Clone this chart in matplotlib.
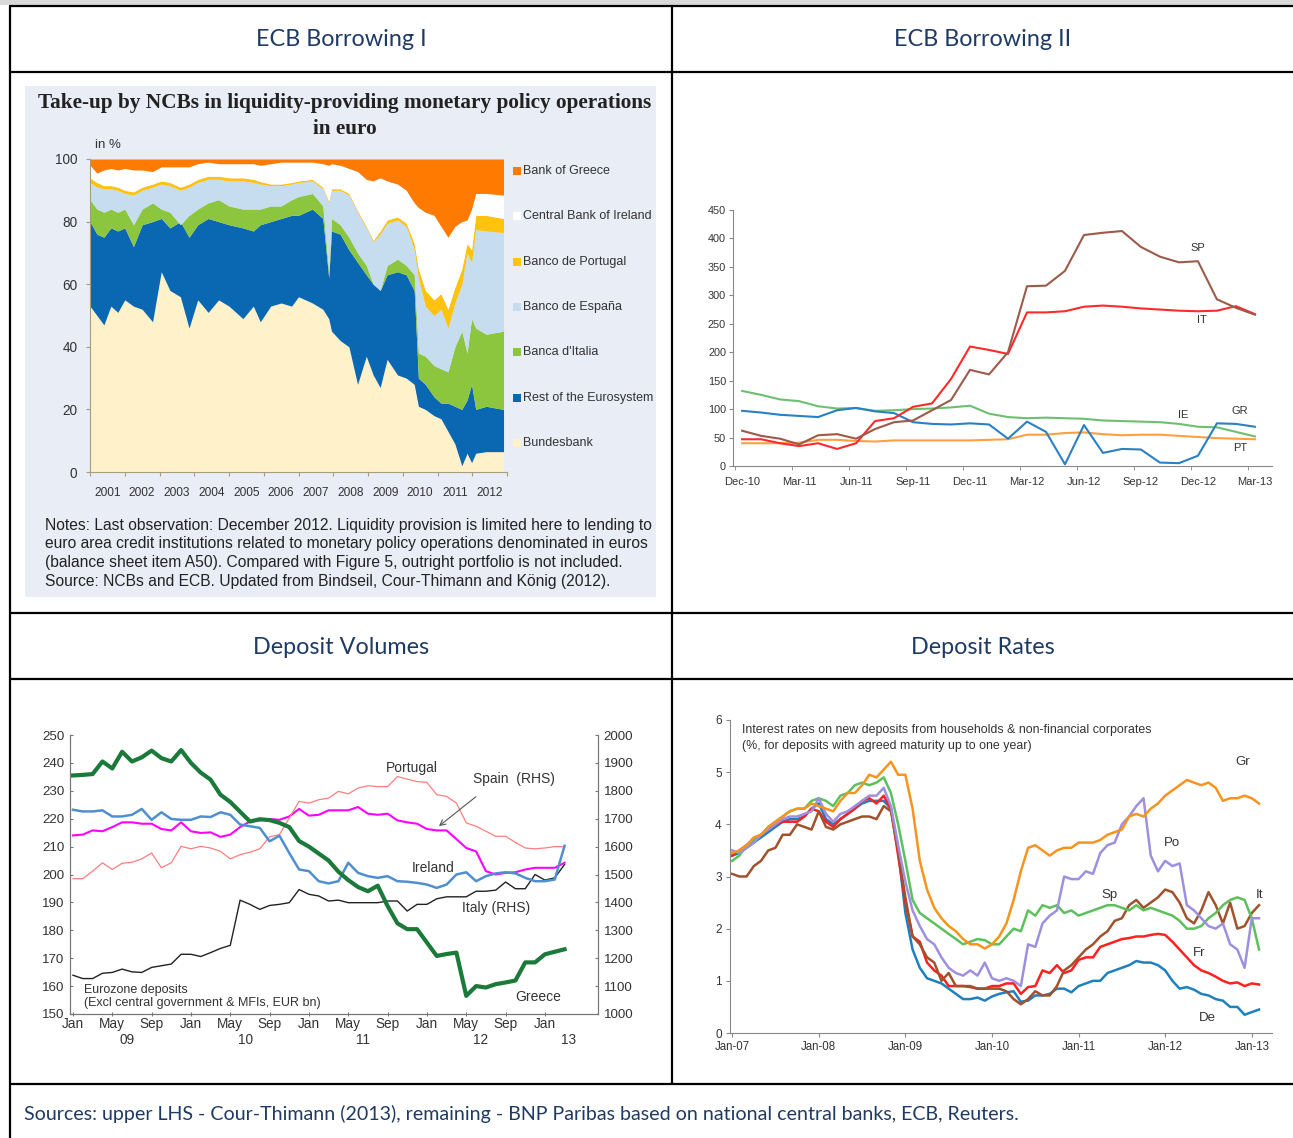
import numpy as np
import matplotlib
matplotlib.use("Agg")
import matplotlib.pyplot as plt
from matplotlib.patches import Rectangle
from matplotlib.lines import Line2D
import matplotlib.transforms as mtransforms

plt.rcParams['font.family'] = ['Liberation Sans', 'DejaVu Sans']

# ---------------- data: panel 1 (cumulative shares, %) ----------------
share_t = [2001.0, 2001.2, 2001.4, 2001.6, 2001.8, 2002.0, 2002.25, 2002.5, 2002.8,
           2003.05, 2003.3, 2003.6, 2003.85, 2004.1, 2004.4, 2004.7, 2005.0, 2005.4,
           2005.7, 2005.9, 2006.2, 2006.5, 2006.8, 2007.0, 2007.4, 2007.7, 2007.87,
           2007.95, 2008.2, 2008.45, 2008.7, 2008.95, 2009.15, 2009.35, 2009.55,
           2009.85, 2010.1, 2010.33, 2010.45, 2010.65, 2010.9, 2011.1, 2011.3, 2011.5,
           2011.7, 2011.85, 2011.98, 2012.1, 2012.4, 2012.9]
bund_top = [53, 50, 47, 53, 51, 55, 53, 52, 48, 64, 58, 56, 46, 55, 51, 55, 53, 49, 53, 48,
            53, 54, 53, 56, 54, 52, 49, 45, 42, 40, 28, 37, 31, 27, 36, 31, 30, 28, 21, 20,
            18, 17, 13, 9, 2, 6, 3, 6, 6.5, 6.5]
rest_top = [80, 76, 75, 78, 77, 78, 72, 79, 80, 81, 78, 80, 75, 79, 81, 80, 79, 78, 77, 79,
            80, 81, 82, 82, 84, 81, 62, 77, 76, 71, 67, 63, 60, 58, 63, 64, 63, 58, 30, 28,
            24, 22, 22, 21, 20, 23, 28, 20, 21, 20]
ital_top = [87, 84, 83, 84, 83, 84, 79, 84, 86, 84, 83, 79, 82, 84, 86, 87, 85, 84, 84, 84,
            85, 85, 87, 88, 89, 85, 64, 81, 79, 75, 70, 66, 60, 58, 66, 68, 66, 63, 38, 37,
            34, 33, 32, 40, 45, 38, 49, 46, 44, 45]
esp_top = [92.5, 91, 90.5, 90.5, 90, 89, 88.5, 90, 91, 92, 91.5, 90, 91, 92.5, 93.5, 93.5,
           93, 93, 92.5, 92, 91.5, 91.5, 92, 92.5, 93, 90.5, 86, 90, 90, 88.5, 83, 78, 73.5,
           76, 79.5, 80.5, 78.5, 71, 62, 53, 50, 52, 46, 54, 60, 70, 67, 77.5, 77, 76.5]
port_top = [94, 92.5, 91.5, 91.5, 91, 90, 89.5, 91, 92, 93, 92.5, 91, 92, 93.5, 94.5, 94.5,
            94, 94, 93.5, 92.8, 92, 92, 92.5, 93, 93.5, 91, 86.5, 90.5, 90.5, 89, 83.5, 78.5,
            74, 77, 80.5, 81.5, 79.5, 73, 65, 58, 55, 57, 52, 59, 65, 73, 71, 82, 82, 81]
irl_top = [98, 95.5, 96.5, 97, 96.5, 97, 96.5, 96.5, 96, 97.5, 97.5, 97.5, 97.5, 98.5, 99,
           98.5, 98.5, 98.5, 98.5, 98, 98.5, 99, 99, 99, 99, 98.5, 98, 98.5, 98, 97, 96, 93.5,
           93, 94, 93, 92, 90, 86, 84.5, 83, 82, 78.5, 75, 78.5, 80, 80.5, 84, 89, 89, 88.5]
share_names = ['Bank of Greece', 'Central Bank of Ireland', 'Banco de Portugal',
               'Banco de España', "Banca d'Italia", 'Rest of the Eurosystem', 'Bundesbank']
years1 = list(range(2001, 2013))

# ---------------- data: panel 2 (EUR bn, monthly Dec-10 .. Mar-13) ----------------
ecb_quarter_labels = ['Dec-10', 'Mar-11', 'Jun-11', 'Sep-11', 'Dec-11', 'Mar-12',
                      'Jun-12', 'Sep-12', 'Dec-12', 'Mar-13']
ecb_sp = [62, 53, 48, 38, 54, 56, 48, 65, 77, 80, 98, 116, 169, 161, 200, 316, 317, 343,
          406, 410, 413, 385, 368, 358, 360, 293, 278, 266]
ecb_it = [47, 47, 40, 35, 40, 30, 40, 79, 84, 104, 110, 153, 210, 204, 197, 270, 270, 272,
          280, 282, 280, 277, 275, 273, 272, 273, 281, 267]
ecb_gr = [97, 94, 90, 88, 86, 98, 102, 96, 93, 77, 74, 73, 75, 73, 48, 78, 60, 3, 72, 23,
          30, 29, 6, 5, 18, 75, 74, 69]
ecb_ie = [132, 125, 117, 114, 105, 101, 102, 97, 98, 100, 101, 103, 106, 92, 86, 84, 85, 84,
          83, 80, 79, 78, 77, 74, 69, 68, 60, 52]
ecb_pt = [40, 40, 40, 41, 46, 46, 44, 43, 45, 45, 45, 45, 45, 46, 47, 55, 55, 58, 59, 56,
          54, 55, 55, 53, 51, 49, 48, 47]

# ---------------- data: panel 3 (deposits, monthly Jan-09 .. Mar-13) ----------------
dep_month_labels = ['Jan', 'May', 'Sep'] * 4 + ['Jan']
dep_year_labels = ['09', '10', '11', '12', '13']
dep_greece = [235.5, 235.7, 236, 240.5, 238, 244, 240.5, 242, 244.4, 241.7, 240.5, 244.6,
              240, 236.5, 234, 228.6, 226, 222.5, 219, 219.8, 219.5, 218.5, 217, 212, 210,
              207.5, 205, 201, 198, 195.5, 194, 196, 188.7, 182.5, 180.4, 180.4, 175.6,
              170.8, 171.5, 172, 156.5, 160, 159.5, 160.7, 161.3, 162, 168.5, 168.5, 171.4,
              172.3, 173.2]
dep_portugal = [198.5, 198.5, 201.2, 204.2, 201.8, 204, 204.4, 205.6, 207.7, 202.4, 204.2,
                210.1, 209.2, 210.1, 209.5, 208.3, 205.6, 207.1, 208, 209.2, 213.5, 214.3,
                220.2, 226.2, 225.6, 226.8, 227.4, 229.8, 228.9, 231, 231.8, 231.5, 231.5,
                235.1, 234.2, 233.3, 233, 228.6, 228, 225.6, 218.5, 217.3, 215.5, 213.7,
                213.7, 211.5, 209.5, 209.2, 209.5, 210, 210]
dep_ireland = [223.2, 222.6, 222.6, 223, 220.8, 220.8, 221.4, 223.5, 219.6, 222.3, 219.9,
               219.6, 219.6, 220.8, 220.6, 222.3, 221.4, 217.9, 217.3, 216.7, 211.9, 213.9,
               207.7, 201.8, 201.2, 197.6, 196.8, 197.6, 204.2, 200.6, 199.4, 198.8, 199.4,
               197.6, 197.4, 197, 196.4, 195.2, 196.4, 200, 200.8, 197.6, 199.4, 200.4,
               200.8, 200.4, 198.8, 197.6, 197.6, 198.2, 210.3]
dep_spain_rhs = [1640, 1643, 1658, 1655, 1670, 1687, 1687, 1682, 1682, 1663, 1658, 1687,
                 1655, 1649, 1651, 1635, 1643, 1670, 1690, 1694, 1699, 1696, 1708, 1735,
                 1711, 1714, 1730, 1730, 1730, 1742, 1718, 1714, 1718, 1694, 1687, 1682,
                 1663, 1658, 1658, 1627, 1595, 1583, 1512, 1500, 1506, 1508, 1518, 1524,
                 1524, 1524, 1542]
dep_italy_rhs = [1139, 1127, 1127, 1146, 1149, 1161, 1151, 1149, 1167, 1173, 1179, 1214,
                 1214, 1206, 1220, 1235, 1246, 1408, 1393, 1375, 1389, 1393, 1399, 1446,
                 1429, 1423, 1405, 1408, 1399, 1399, 1399, 1399, 1405, 1405, 1369, 1393,
                 1393, 1413, 1420, 1420, 1420, 1440, 1440, 1444, 1473, 1449, 1449, 1500,
                 1480, 1488, 1536]

# ---------------- data: panel 4 (deposit rates %, monthly Jan-07 .. Feb-13) ----------------
rate_year_labels = ['Jan-07', 'Jan-08', 'Jan-09', 'Jan-10', 'Jan-11', 'Jan-12', 'Jan-13']
rate_gr = [3.45, 3.5, 3.6, 3.75, 3.8, 3.95, 4.05, 4.15, 4.25, 4.3, 4.3, 4.4, 4.35, 4.3, 4.25,
           4.45, 4.6, 4.6, 4.75, 4.95, 4.9, 5.05, 5.2, 4.95, 4.95, 4.3, 3.3, 2.75, 2.4, 2.2,
           2.05, 1.95, 1.8, 1.7, 1.7, 1.62, 1.7, 1.85, 2.1, 2.55, 3.1, 3.55, 3.6, 3.5, 3.4,
           3.5, 3.55, 3.55, 3.65, 3.65, 3.65, 3.7, 3.8, 3.85, 3.9, 4.15, 4.2, 4.15, 4.3, 4.4,
           4.55, 4.65, 4.75, 4.85, 4.8, 4.75, 4.8, 4.7, 4.45, 4.5, 4.5, 4.55, 4.5, 4.4]
rate_de = [3.4, 3.45, 3.55, 3.65, 3.75, 3.85, 3.95, 4.05, 4.1, 4.1, 4.15, 4.3, 4.4, 4.1, 4.0,
           4.1, 4.2, 4.3, 4.4, 4.45, 4.45, 4.45, 4.3, 3.5, 2.3, 1.6, 1.25, 1.05, 1.0, 0.95,
           0.85, 0.75, 0.65, 0.65, 0.68, 0.62, 0.7, 0.75, 0.78, 0.8, 0.6, 0.62, 0.72, 0.72,
           0.75, 0.85, 0.85, 0.78, 0.9, 0.95, 1.0, 1.0, 1.15, 1.2, 1.25, 1.3, 1.38, 1.35, 1.35,
           1.3, 1.2, 1.0, 0.85, 0.88, 0.83, 0.75, 0.72, 0.65, 0.62, 0.5, 0.5, 0.35, 0.4, 0.45]
rate_fr = [3.4, 3.5, 3.6, 3.7, 3.8, 3.9, 4.0, 4.05, 4.05, 4.05, 4.15, 4.3, 4.25, 4.05, 3.95,
           4.1, 4.2, 4.3, 4.45, 4.5, 4.4, 4.55, 4.3, 3.4, 2.5, 1.85, 1.75, 1.35, 1.2, 1.1,
           0.9, 0.9, 0.9, 0.88, 0.85, 0.85, 0.9, 0.9, 0.95, 0.95, 0.75, 0.88, 0.9, 1.2, 1.15,
           1.3, 1.15, 1.2, 1.4, 1.45, 1.45, 1.65, 1.7, 1.75, 1.8, 1.82, 1.85, 1.85, 1.88, 1.9,
           1.88, 1.75, 1.6, 1.45, 1.3, 1.2, 1.15, 1.08, 1.0, 0.95, 0.97, 0.9, 0.95, 0.93]
rate_it = [3.05, 3.0, 3.0, 3.2, 3.3, 3.5, 3.55, 3.8, 3.8, 4.0, 3.95, 3.9, 4.25, 3.95, 3.9,
           4.0, 4.05, 4.1, 4.15, 4.15, 4.1, 4.35, 4.25, 3.5, 2.6, 1.85, 1.7, 1.45, 1.35, 1.0,
           1.15, 0.9, 0.9, 0.9, 0.85, 0.85, 0.85, 0.85, 0.8, 0.65, 0.55, 0.65, 0.8, 0.72,
           0.72, 0.9, 1.2, 1.3, 1.45, 1.6, 1.7, 1.85, 1.95, 2.15, 2.2, 2.45, 2.55, 2.4, 2.5,
           2.6, 2.75, 2.7, 2.5, 2.2, 2.1, 2.35, 2.7, 2.45, 2.1, 2.5, 2.0, 2.05, 2.3, 2.45]
rate_sp = [3.3, 3.4, 3.6, 3.7, 3.8, 3.95, 4.05, 4.15, 4.25, 4.3, 4.3, 4.45, 4.5, 4.45, 4.35,
           4.55, 4.6, 4.75, 4.8, 4.75, 4.8, 4.9, 4.6, 4.0, 3.3, 2.55, 2.3, 2.2, 2.1, 2.0,
           1.9, 1.8, 1.7, 1.75, 1.8, 1.78, 1.7, 1.7, 1.85, 2.0, 1.95, 2.35, 2.25, 2.45, 2.4,
           2.45, 2.3, 2.35, 2.25, 2.3, 2.35, 2.4, 2.45, 2.45, 2.4, 2.35, 2.45, 2.35, 2.4,
           2.35, 2.3, 2.25, 2.15, 2.0, 2.0, 2.05, 2.2, 2.3, 2.45, 2.55, 2.6, 2.55, 2.2, 1.6]
rate_po = [3.5, 3.45, 3.55, 3.65, 3.8, 3.9, 4.0, 4.1, 4.15, 4.15, 4.2, 4.25, 4.5, 4.2, 4.05,
           4.2, 4.25, 4.35, 4.45, 4.55, 4.55, 4.7, 4.35, 3.6, 2.9, 2.35, 2.05, 1.8, 1.7, 1.45,
           1.25, 1.15, 1.1, 1.2, 1.1, 1.35, 1.05, 1.0, 1.05, 1.0, 0.9, 1.7, 1.65, 2.1, 2.25,
           2.35, 3.0, 2.95, 2.95, 3.1, 3.05, 3.45, 3.6, 3.65, 4.0, 4.15, 4.35, 4.5, 3.4, 3.1,
           3.3, 3.2, 3.25, 2.45, 2.35, 2.2, 2.05, 2.0, 2.1, 1.7, 1.6, 1.25, 2.2, 2.2]

# ---------------- figure & helpers ----------------
W, H = 1293, 1138
fig = plt.figure(figsize=(W / 100, H / 100), dpi=100)
fig.patch.set_facecolor('white')


def fx(x):
    return x / W


def fy(y):
    return 1 - y / H


def add_ax(x0, y0, x1, y1, **kw):
    return fig.add_axes([x0 / W, 1 - y1 / H, (x1 - x0) / W, (y1 - y0) / H], **kw)


def hline(y, x0, x1, lw=1.6):
    fig.add_artist(Line2D([fx(x0), fx(x1)], [fy(y), fy(y)], transform=fig.transFigure,
                          color='black', lw=lw, solid_capstyle='butt', zorder=5))


def vline(x, y0, y1, lw=1.6):
    fig.add_artist(Line2D([fx(x), fx(x)], [fy(y0), fy(y1)], transform=fig.transFigure,
                          color='black', lw=lw, solid_capstyle='butt', zorder=5))


NAVY = '#1f3a63'
HEAD_FONT = ['Lato', 'DejaVu Sans']
DARK = '#333333'

# table frame
fig.add_artist(Rectangle((0, fy(5)), 1, 5 / H, transform=fig.transFigure,
                         facecolor='#d9d9d9', edgecolor='none', zorder=-5))
for yy in (6, 72, 613, 679, 1084):
    hline(yy, 9, W)
vline(10, 6, H)
vline(672, 6, 1084)

for txt, xx, yy in (('ECB Borrowing I', 341, 40), ('ECB Borrowing II', 983, 40),
                    ('Deposit Volumes', 341, 647), ('Deposit Rates', 983, 647)):
    fig.text(fx(xx), fy(yy), txt, ha='center', va='center', fontsize=16.8, color=NAVY,
             family=HEAD_FONT)
fig.text(fx(24), fy(1114), 'Sources: upper LHS - Cour-Thimann (2013), remaining - BNP Paribas '
         'based on national central banks, ECB, Reuters.', ha='left', va='center',
         fontsize=14.1, color=NAVY, family=HEAD_FONT)

# ---------------- panel 1 ----------------
BG1 = '#e8edf6'
fig.add_artist(Rectangle((fx(25), fy(597)), 631 / W, 511 / H, transform=fig.transFigure,
                         facecolor=BG1, edgecolor='none', zorder=-5))
SERIF = ['Liberation Serif', 'DejaVu Serif']
fig.text(fx(345), fy(103), 'Take-up by NCBs in liquidity-providing monetary policy operations',
         ha='center', va='center', fontsize=15.3, fontweight='bold', color='#222222',
         family=SERIF)
fig.text(fx(345), fy(129), 'in euro', ha='center', va='center', fontsize=15.3,
         fontweight='bold', color='#222222', family=SERIF)

ax1 = add_ax(90, 159, 507, 472)
ax1.set_facecolor(BG1)
t1 = np.array(share_t)
levels = [np.zeros(len(t1)), np.array(bund_top), np.array(rest_top), np.array(ital_top),
          np.array(esp_top), np.array(port_top), np.array(irl_top), np.full(len(t1), 100.0)]
cols1 = ['#fff1c9', '#0a67b2', '#8cc63e', '#c6dcef', '#ffc20e', '#ffffff', '#ff7a00']
for k in range(7):
    ax1.fill_between(t1, levels[k], levels[k + 1], color=cols1[k], lw=0)
ax1.set_xlim(2001, 2013)
ax1.set_ylim(0, 100)
for s in ('top', 'right'):
    ax1.spines[s].set_visible(False)
for s in ('left', 'bottom'):
    ax1.spines[s].set_color('#a89c7c')
ax1.set_yticks(range(0, 101, 20))
ax1.tick_params(axis='y', labelsize=9.8, colors='#a89c7c', labelcolor=DARK,
                length=3, direction='out', pad=6)
ax1.set_xticks(range(2001, 2014))
ax1.set_xticklabels([])
ax1.tick_params(axis='x', which='major', length=3, colors='#a89c7c', direction='out')
ax1.set_xticks([y + 0.5 for y in years1], minor=True)
ax1.set_xticklabels([str(y) for y in years1], minor=True)
ax1.tick_params(axis='x', which='minor', length=0, labelsize=8.6, labelcolor=DARK, pad=11)
fig.text(fx(95), fy(145), 'in %', ha='left', va='center', fontsize=9.5, color=DARK)

leg_cols = ['#ff7a00', '#ffffff', '#ffc20e', '#c6dcef', '#8cc63e', '#0a67b2', '#fff1c9']
for i, (nm, c) in enumerate(zip(share_names, leg_cols)):
    yy = 171 + i * 45.3
    fig.add_artist(Rectangle((fx(513), fy(yy + 4)), 8 / W, 8 / H, transform=fig.transFigure,
                             facecolor=c, edgecolor='none'))
    fig.text(fx(523), fy(yy), nm, ha='left', va='center', fontsize=9, color=DARK)

notes = ['Notes: Last observation: December 2012. Liquidity provision is limited here to lending to',
         'euro area credit institutions related to monetary policy operations denominated in euros',
         '(balance sheet item A50). Compared with Figure 5, outright portfolio is not included.',
         'Source: NCBs and ECB. Updated from Bindseil, Cour-Thimann and König (2012).']
for i, ln in enumerate(notes):
    fig.text(fx(45), fy(525 + i * 18.7), ln, ha='left', va='center', fontsize=11.25,
             color='#222222')

# ---------------- panel 2 ----------------
ax2 = add_ax(733, 210, 1272, 466)
x2 = np.arange(len(ecb_sp))
ax2.plot(x2, ecb_ie, color='#6cc070', lw=1.5)
ax2.plot(x2, ecb_pt, color='#ffa040', lw=1.5)
ax2.plot(x2, ecb_gr, color='#2a80c4', lw=1.5)
ax2.plot(x2, ecb_it, color='#ff2a2a', lw=1.5)
ax2.plot(x2, ecb_sp, color='#9c5a4a', lw=1.5)
ax2.set_xlim(-0.48, 27.9)
ax2.set_ylim(0, 450)
for s in ('top', 'right'):
    ax2.spines[s].set_visible(False)
for s in ('left', 'bottom'):
    ax2.spines[s].set_color('#888888')
ax2.set_yticks(range(0, 451, 50))
ax2.tick_params(axis='y', labelsize=7.8, colors='#888888', labelcolor=DARK, length=3,
                direction='out', pad=2)
qpos = list(range(0, 28, 3))
ax2.set_xticks(qpos)
ax2.set_xticklabels(ecb_quarter_labels)
ax2.tick_params(axis='x', which='major', length=0, labelsize=8, labelcolor=DARK, pad=8)
ax2.set_xticks([q - 0.37 for q in qpos], minor=True)
ax2.tick_params(axis='x', which='minor', length=3, colors='#888888', direction='out')
for txt, xx, yy in (('SP', 24.0, 383), ('IT', 24.2, 257), ('IE', 23.2, 90), ('GR', 26.2, 97),
                    ('PT', 26.2, 32)):
    ax2.text(xx, yy, txt, fontsize=8, color=DARK, ha='center', va='center')

# ---------------- panel 3 ----------------
ax3 = add_ax(70, 735, 598, 1014)
ax3r = ax3.twinx()
x3 = np.arange(len(dep_greece))
ax3r.plot(x3, dep_italy_rhs, color='#222222', lw=1.0)
ax3r.plot(x3, dep_spain_rhs, color='#ff00ff', lw=1.5)
ax3.set_zorder(ax3r.get_zorder() + 1)
ax3.patch.set_visible(False)
ax3.plot(x3, dep_portugal, color='#ff7f7f', lw=0.9)
ax3.plot(x3, dep_ireland, color='#4f8fd0', lw=1.8)
ax3.plot(x3, dep_greece, color='#1b7a3a', lw=3.0)
ax3.set_xlim(-0.3, 53.4)
ax3.set_ylim(150, 250)
ax3r.set_ylim(1000, 2000)
for a in (ax3, ax3r):
    a.spines['top'].set_visible(False)
    for s in ('left', 'right', 'bottom'):
        a.spines[s].set_color('#777777')
ax3.set_yticks(range(150, 251, 10))
ax3r.set_yticks(range(1000, 2001, 100))
ax3.tick_params(axis='y', labelsize=9.6, colors='#777777', labelcolor=DARK, length=2,
                direction='in', pad=4)
ax3r.tick_params(axis='y', labelsize=9.6, colors='#777777', labelcolor=DARK, length=2,
                 direction='in', pad=4)
mpos = list(range(0, 49, 4))
ax3.set_xticks(mpos)
ax3.set_xticklabels(dep_month_labels)
ax3.tick_params(axis='x', labelsize=9.8, colors='#777777', labelcolor=DARK, length=3,
                direction='inout', pad=1)
trans3 = mtransforms.blended_transform_factory(ax3.transData, ax3.transAxes)
for lab, xx in zip(dep_year_labels, [5.5, 17.5, 29.5, 41.5, 50.4]):
    ax3.text(xx, -0.092, lab, transform=trans3, ha='center', va='center', fontsize=9.8,
             color=DARK)
ax3.text(34.5, 238.2, 'Portugal', fontsize=10, color=DARK, ha='center', va='center')
ax3.text(44.8, 234.2, 'Spain  (RHS)', fontsize=10, color=DARK, ha='center', va='center')
ax3.annotate('', xy=(37.0, 216.7), xytext=(41.2, 228.5),
             arrowprops=dict(arrowstyle='->', color='#555555', lw=0.8))
ax3.text(36.6, 202.3, 'Ireland', fontsize=10, color=DARK, ha='center', va='center')
ax3.text(43.0, 188.0, 'Italy (RHS)', fontsize=10, color=DARK, ha='center', va='center')
ax3.text(47.3, 156.0, 'Greece', fontsize=10, color=DARK, ha='center', va='center')
ax3.text(1.1, 158.6, 'Eurozone deposits', fontsize=9, color=DARK, ha='left', va='center')
ax3.text(1.1, 154.0, '(Excl central government & MFIs, EUR bn)', fontsize=9, color=DARK,
         ha='left', va='center')

# ---------------- panel 4 ----------------
ax4 = add_ax(730, 720, 1272, 1033)
x4 = np.arange(len(rate_gr))
ax4.plot(x4, rate_de, color='#1f80c0', lw=1.8)
ax4.plot(x4, rate_fr, color='#ff2020', lw=1.8)
ax4.plot(x4, rate_it, color='#a0522d', lw=1.8)
ax4.plot(x4, rate_sp, color='#5cc05c', lw=1.8)
ax4.plot(x4, rate_po, color='#9f8fdf', lw=1.8)
ax4.plot(x4, rate_gr, color='#f7941d', lw=1.8)
ax4.set_xlim(-0.3, 74.8)
ax4.set_ylim(0, 6)
for s in ('top', 'right'):
    ax4.spines[s].set_visible(False)
for s in ('left', 'bottom'):
    ax4.spines[s].set_color('#888888')
ax4.set_yticks(range(0, 7))
ax4.tick_params(axis='y', labelsize=8.5, colors='#888888', labelcolor=DARK, length=3,
                direction='out', pad=3)
ax4.set_xticks(range(0, 73, 12))
ax4.set_xticklabels(rate_year_labels)
ax4.tick_params(axis='x', labelsize=8.3, colors='#888888', labelcolor=DARK, length=3,
                direction='out', pad=3)
ax4.text(1.3, 5.8, 'Interest rates on new deposits from households & non-financial corporates',
         fontsize=8.9, color=DARK, ha='left', va='center')
ax4.text(1.3, 5.5, '(%, for deposits with agreed maturity up to one year)', fontsize=8.9,
         color=DARK, ha='left', va='center')
for txt, xx, yy in (('Gr', 70.8, 5.19), ('Po', 60.9, 3.64), ('Sp', 52.3, 2.64),
                    ('It', 73.1, 2.64), ('Fr', 64.7, 1.53), ('De', 65.8, 0.29)):
    ax4.text(xx, yy, txt, fontsize=9.5, color=DARK, ha='center', va='center')

fig.savefig('out.png', dpi=100)
